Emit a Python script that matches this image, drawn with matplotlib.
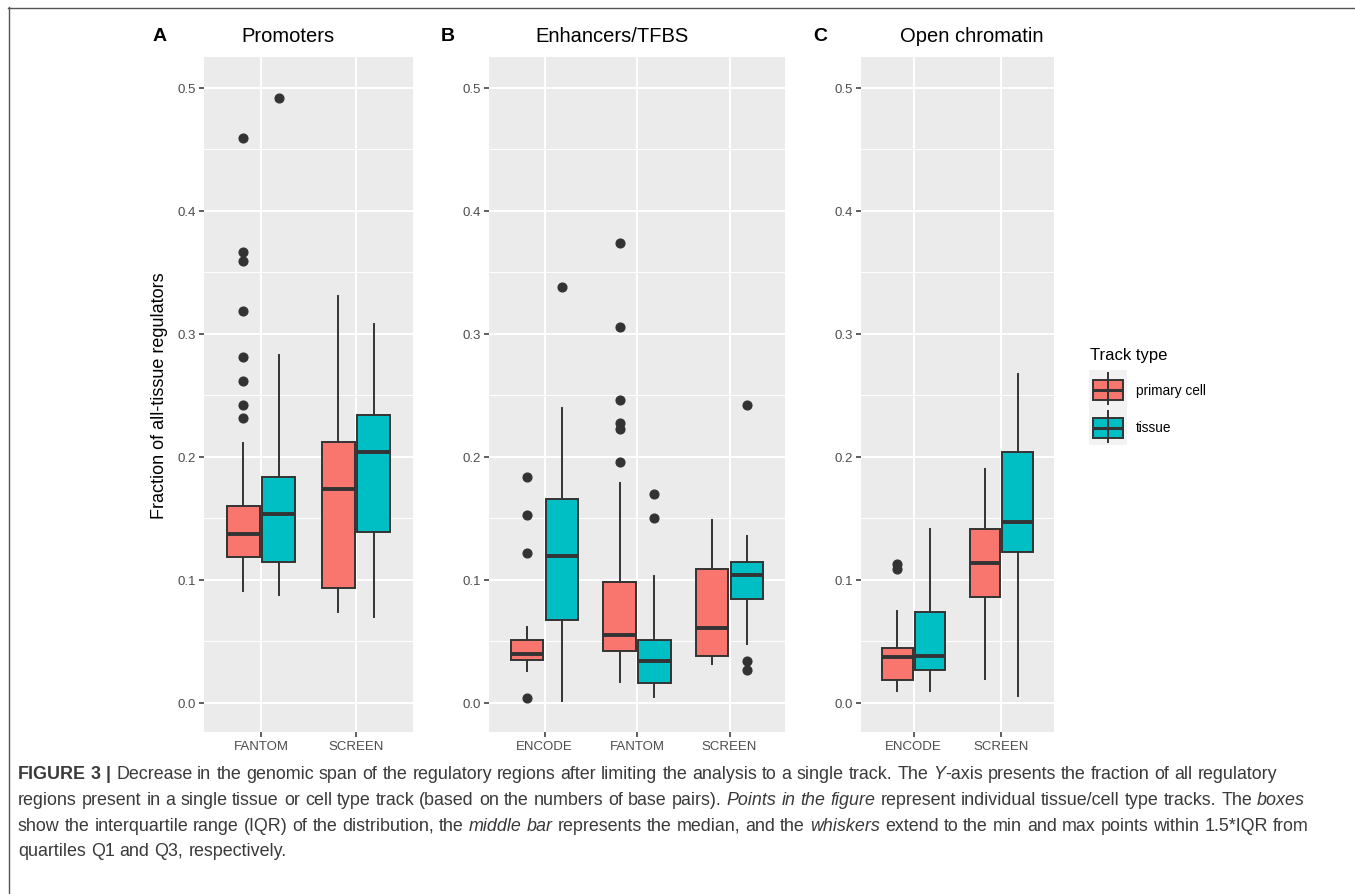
import re
import matplotlib
matplotlib.use("Agg")
import matplotlib.pyplot as plt
from matplotlib.patches import Rectangle

plt.rcParams['font.family'] = ['Liberation Sans', 'DejaVu Sans']

# ---- data ----
cats_prom = ['FANTOM', 'SCREEN']
prom_cell_lo = [0.091, 0.074]
prom_cell_q1 = [0.119, 0.0935]
prom_cell_med = [0.137, 0.174]
prom_cell_q3 = [0.160, 0.212]
prom_cell_hi = [0.211, 0.331]
prom_cell_out = [[0.459, 0.367, 0.359, 0.319, 0.281, 0.2615, 0.2425, 0.2315], []]
prom_tis_lo = [0.088, 0.070]
prom_tis_q1 = [0.115, 0.139]
prom_tis_med = [0.154, 0.204]
prom_tis_q3 = [0.184, 0.234]
prom_tis_hi = [0.283, 0.308]
prom_tis_out = [[0.492], []]

cats_enh = ['ENCODE', 'FANTOM', 'SCREEN']
enh_cell_lo = [0.026, 0.017, 0.032]
enh_cell_q1 = [0.035, 0.0425, 0.0385]
enh_cell_med = [0.040, 0.0556, 0.0607]
enh_cell_q3 = [0.051, 0.0986, 0.109]
enh_cell_hi = [0.0615, 0.179, 0.149]
enh_cell_out = [[0.184, 0.153, 0.122, 0.004],
                [0.374, 0.306, 0.246, 0.228, 0.223, 0.196], []]
enh_tis_lo = [0.002, 0.005, 0.048]
enh_tis_q1 = [0.0675, 0.0163, 0.0843]
enh_tis_med = [0.1195, 0.034, 0.104]
enh_tis_q3 = [0.166, 0.051, 0.115]
enh_tis_hi = [0.240, 0.103, 0.136]
enh_tis_out = [[0.338], [0.170, 0.150], [0.2425, 0.034, 0.027]]

cats_open = ['ENCODE', 'SCREEN']
open_cell_lo = [0.0095, 0.0195]
open_cell_q1 = [0.019, 0.086]
open_cell_med = [0.037, 0.1136]
open_cell_q3 = [0.045, 0.1417]
open_cell_hi = [0.075, 0.190]
open_cell_out = [[0.113, 0.109], []]
open_tis_lo = [0.010, 0.006]
open_tis_q1 = [0.027, 0.123]
open_tis_med = [0.038, 0.147]
open_tis_q3 = [0.0737, 0.204]
open_tis_hi = [0.1415, 0.2675]
open_tis_out = [[], []]

groups = ['primary cell', 'tissue']
colors = ['#F8766D', '#00BFC4']
yticks = [0.0, 0.1, 0.2, 0.3, 0.4, 0.5]

DARK = '#333333'
W, H = 1355, 895


def make_stats(lo, q1, med, q3, hi, out):
    return [dict(whislo=a, q1=b, med=c, q3=d, whishi=e, fliers=f)
            for a, b, c, d, e, f in zip(lo, q1, med, q3, hi, out)]


def panel(rect, cats, cell, tis):
    l, t, r, b = rect
    ax = fig.add_axes([l / W, 1 - b / H, (r - l) / W, (b - t) / H])
    ax.set_facecolor('#EBEBEB')
    for sp in ax.spines.values():
        sp.set_visible(False)
    n = len(cats)
    for k, (st, col) in enumerate(zip([cell, tis], colors)):
        off = -0.1875 if k == 0 else 0.1875
        ax.bxp(st, positions=[i + off for i in range(n)], widths=0.35,
               patch_artist=True, showcaps=False, manage_ticks=False,
               boxprops=dict(facecolor=col, edgecolor=DARK, linewidth=1.4),
               medianprops=dict(color=DARK, linewidth=2.8, solid_capstyle='butt'),
               whiskerprops=dict(color=DARK, linewidth=1.4),
               flierprops=dict(marker='o', markerfacecolor=DARK,
                               markeredgecolor=DARK, markersize=6.3))
    ax.set_xlim(-0.6, n - 0.4)
    ax.set_ylim(-0.0236, 0.5252)
    ax.set_xticks(range(n))
    ax.set_xticklabels(cats)
    ax.set_yticks(yticks)
    ax.set_yticklabels([f'{v:.1f}' for v in yticks])
    ax.set_yticks([0.05, 0.15, 0.25, 0.35, 0.45], minor=True)
    ax.tick_params(which='major', length=3.5, width=1.1, color=DARK,
                   labelcolor='#4D4D4D', labelsize=9.5, pad=2)
    ax.tick_params(which='minor', length=0)
    ax.set_axisbelow(True)
    ax.grid(which='major', color='white', linewidth=1.5)
    ax.grid(which='minor', axis='y', color='white', linewidth=0.7)
    return ax


fig = plt.figure(figsize=(W / 100, H / 100), dpi=100)

# overlay for titles, legend, frame and caption (pixel coordinates)
ov = fig.add_axes([0, 0, 1, 1])
ov.set_xlim(0, W)
ov.set_ylim(H, 0)
ov.axis('off')

axA = panel((204, 58, 413, 733), cats_prom,
            make_stats(prom_cell_lo, prom_cell_q1, prom_cell_med, prom_cell_q3, prom_cell_hi, prom_cell_out),
            make_stats(prom_tis_lo, prom_tis_q1, prom_tis_med, prom_tis_q3, prom_tis_hi, prom_tis_out))
axB = panel((489, 58, 785, 733), cats_enh,
            make_stats(enh_cell_lo, enh_cell_q1, enh_cell_med, enh_cell_q3, enh_cell_hi, enh_cell_out),
            make_stats(enh_tis_lo, enh_tis_q1, enh_tis_med, enh_tis_q3, enh_tis_hi, enh_tis_out))
axC = panel((861, 58, 1054, 733), cats_open,
            make_stats(open_cell_lo, open_cell_q1, open_cell_med, open_cell_q3, open_cell_hi, open_cell_out),
            make_stats(open_tis_lo, open_tis_q1, open_tis_med, open_tis_q3, open_tis_hi, open_tis_out))

axA.set_ylabel('Fraction of all-tissue regulators', fontsize=13, color='black', labelpad=7)

# panel letters and titles
for letter, lx, title, tx in [('A', 160, 'Promoters', 288),
                              ('B', 448, 'Enhancers/TFBS', 612),
                              ('C', 820, 'Open chromatin', 972)]:
    ov.text(lx, 36, letter, fontsize=14, fontweight='bold', ha='center', va='center')
    ov.text(tx, 36, title, fontsize=14.5, ha='center', va='center')

# legend
ov.text(1090, 355, 'Track type', fontsize=12, ha='left', va='center')
for k, (g, col) in enumerate(zip(groups, colors)):
    y0 = 371 + k * 37.5
    ov.add_patch(Rectangle((1089, y0), 38, 37.5, facecolor='#F2F2F2', edgecolor='none'))
    ov.plot([1108, 1108], [y0 + 3, y0 + 34], color=DARK, lw=1.4)
    ov.add_patch(Rectangle((1093, y0 + 10), 30, 20, facecolor=col, edgecolor=DARK, lw=1.4))
    ov.plot([1093, 1123], [y0 + 20, y0 + 20], color=DARK, lw=2.2, solid_capstyle='butt')
    ov.text(1136, y0 + 20, g, fontsize=9.8, ha='left', va='center')

# frame lines
ov.plot([8, W], [8.5, 8.5], color='#555555', lw=1.0)
ov.plot([8.5, 8.5], [8, H], color='#555555', lw=1.0)

# caption
renderer = fig.canvas.get_renderer()
CAP_SIZE = 12.9
CAP_COLOR = '#3a3a3a'
styles = {'b': dict(fontweight='bold'), 'n': dict(), 'i': dict(fontstyle='italic')}


def width_of(s, st):
    t = ov.text(0, 0, s, fontsize=CAP_SIZE, **styles[st])
    w = t.get_window_extent(renderer).width
    t.remove()
    return w


caption_lines = [
    [('FIGURE 3 |', 'b'),
     (' Decrease in the genomic span of the regulatory regions after limiting the analysis to a single track. The ', 'n'),
     ('Y', 'i'), ('-axis presents the fraction of all regulatory', 'n')],
    [('regions present in a single tissue or cell type track (based on the numbers of base pairs). ', 'n'),
     ('Points in the figure', 'i'), (' represent individual tissue/cell type tracks. The ', 'n'), ('boxes', 'i')],
    [('show the interquartile range (IQR) of the distribution, the ', 'n'), ('middle bar', 'i'),
     (' represents the median, and the ', 'n'), ('whiskers', 'i'),
     (' extend to the min and max points within 1.5*IQR from', 'n')],
    [('quartiles Q1 and Q3, respectively.', 'n')],
]
space_w = {k: width_of('a a', k) - width_of('aa', k) for k in styles}
for li, line in enumerate(caption_lines):
    x = 18
    y = 775 + li * 25.6
    for seg, st in line:
        for tok in re.split(r'( )', seg):
            if tok == '':
                continue
            if tok == ' ':
                x += space_w[st]
                continue
            t = ov.text(x, y, tok, fontsize=CAP_SIZE, color=CAP_COLOR, ha='left',
                        va='center', **styles[st])
            x += t.get_window_extent(renderer).width

fig.savefig('out.png', dpi=100)
